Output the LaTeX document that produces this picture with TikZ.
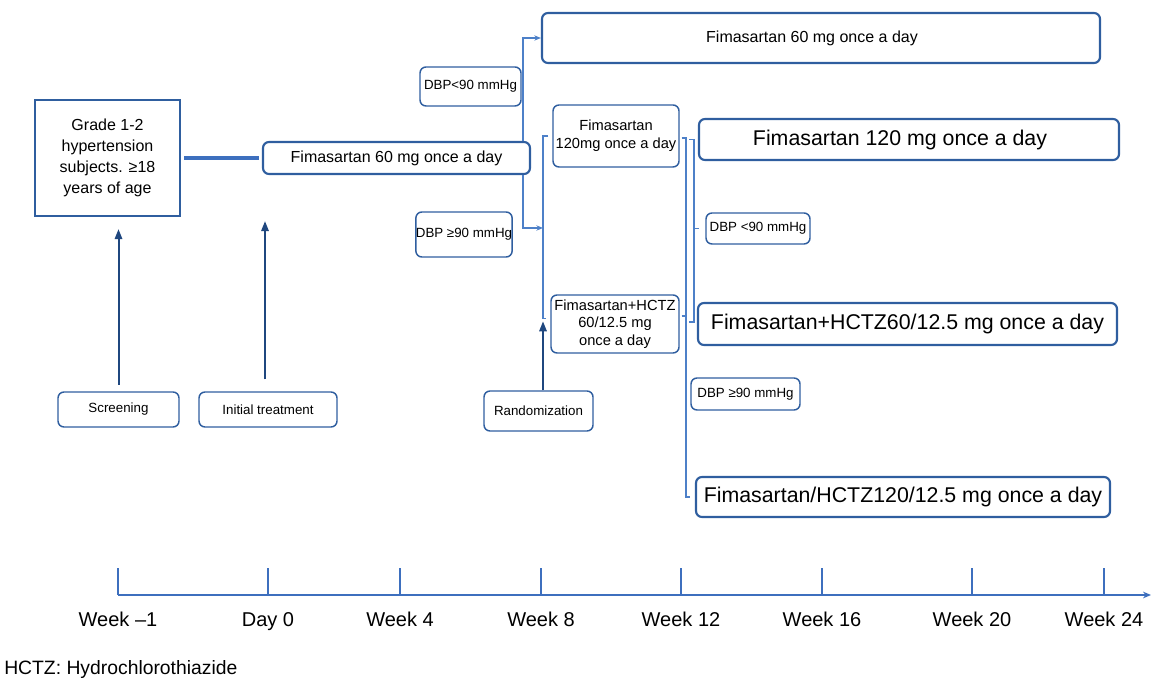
\documentclass[tikz,border=0pt]{standalone}
\usepackage{fontspec}
\setmainfont{Liberation Sans}
\usetikzlibrary{arrows.meta,calc}
\definecolor{bbox}{HTML}{2F5E9F}
\definecolor{lblue}{HTML}{4D80C8}
\definecolor{dblue}{HTML}{1F477F}
\definecolor{axc}{HTML}{3D6FBE}
\begin{document}
\begin{tikzpicture}[x=0.75pt,y=-0.75pt,
  base/.style={rounded corners=4.5pt, inner sep=0pt, align=center, text=black},
  big/.style={base, draw=bbox, line width=1.6pt},
  small/.style={base, draw=bbox, line width=1.1pt},
  sq/.style={draw=bbox, line width=1.6pt, inner sep=0pt, align=center},
  f10/.style={font=\fontsize{10}{12}\selectfont},
  f11/.style={font=\fontsize{11}{13.3}\selectfont},
  f12/.style={font=\fontsize{12}{15.75}\selectfont},
  f15/.style={font=\fontsize{15}{18}\selectfont},
  f16/.style={font=\fontsize{16}{19}\selectfont},
  fnote/.style={font=\fontsize{14.5}{17}\selectfont},
  conn/.style={draw=lblue, line width=1.1pt},
  carr/.style={conn, -{Stealth[length=5pt,width=4pt]}},
  darr/.style={draw=dblue, line width=1.5pt, -{Triangle[length=7.5pt,width=5.5pt]}},
  axisline/.style={draw=axc, line width=1.6pt}
]
\useasboundingbox (0,0) rectangle (1152,680);

% nodes
\node[sq, minimum width=108.75pt, minimum height=87pt, f12] (grade) at (107.5,158) {Grade 1-2\\hypertension\\subjects. ≥18\\years of age};
\node[big, minimum width=200.25pt, minimum height=24pt, f12] (fima60L) at (396.5,158) {Fimasartan 60 mg once a day};
\node[big, minimum width=418.5pt, minimum height=37.5pt, f12] (fima60T) at (821,38) {Fimasartan 60 mg once a day\hspace*{13.5pt}};
\node[small, minimum width=75.75pt, minimum height=29.25pt, f10] (dbpA) at (470.5,86.5) {DBP<90 mmHg};
\node[small, minimum width=72pt, minimum height=33.75pt, f10] (dbpB) at (464,234.5) {DBP ≥90 mmHg};
\node[small, minimum width=94.5pt, minimum height=46.5pt, f11] (f120s) at (616,136) {Fimasartan\\120mg once a day};
\node[small, minimum width=96pt, minimum height=43.5pt, f11] (fhs) at (615,324) {Fimasartan+HCTZ\\60/12.5 mg\\once a day};
\node[small, minimum width=90.75pt, minimum height=26.25pt, f10] (scr) at (118.5,409.5) {Screening};
\node[small, minimum width=103.5pt, minimum height=26.25pt, f10] (init) at (268,409.5) {Initial treatment};
\node[small, minimum width=81.75pt, minimum height=30pt, f10] (rand) at (538.5,411) {Randomization};
\node[big, minimum width=315pt, minimum height=30.75pt, f16] (f120b) at (909,139.5) {Fimasartan 120 mg once a day\hspace*{13.5pt}};
\node[small, minimum width=78pt, minimum height=23.25pt, f10] (dbpC) at (758,228.5) {DBP <90 mmHg};
\node[big, minimum width=314.25pt, minimum height=31.5pt, f16] (fh60b) at (907.5,324) {Fimasartan+HCTZ60/12.5 mg once a day};
\node[small, minimum width=81.75pt, minimum height=24pt, f10] (dbpD) at (745.5,394) {DBP ≥90 mmHg};
\node[big, minimum width=310.5pt, minimum height=30pt, f16] (fh120b) at (903,497) {Fimasartan/HCTZ120/12.5 mg once a day};

% helper coordinates
\coordinate (xj) at (523,0);
\coordinate (bL) at (543,228);
\coordinate (xi) at (265,0);
\coordinate (xo) at (686,0);
\coordinate (xq) at (689,0);
\coordinate (xin) at (694,0);

% thick link
\draw[draw=axc, line width=3pt] ([xshift=2.25pt]grade.east) -- ([xshift=-2.25pt]fima60L.west);

% branching connectors
\draw[carr] (fima60L.north -| xj) |- (fima60T.west);
\draw[carr] (fima60L.south -| xj) |- (bL);
\draw[conn] ([xshift=-3pt]f120s.west) -- (f120s.west -| bL) -- ([yshift=4pt]fhs.west -| bL) -- ([xshift=-3pt,yshift=4pt]fhs.west);

% right brackets
\draw[conn] ([xshift=1.5pt,yshift=-1.5pt]f120s.east) -- ([yshift=-1.5pt]f120s.east -| xo) -- (fh120b.west -| xo) -- ([xshift=-4pt]fh120b.west);
\draw[conn] ([xshift=1.5pt,yshift=6pt]fhs.east) -- ([yshift=6pt]fhs.east -| xo);
\draw[conn] (f120b.west -| xq) -- (f120b.west -| xin) -- ([yshift=1.5pt]fh60b.west -| xin) -- ([yshift=1.5pt]fh60b.west -| xq);
\draw[conn] (dbpC.west -| xin) -- ([xshift=-5pt]dbpC.west);

% dark arrows
\draw[darr, shorten <=5pt, shorten >=9pt] (scr.north) -- (scr.north |- grade.south);
\draw[darr, shorten <=9pt, shorten >=34.5pt] (init.north -| xi) -- (fima60L.south -| xi);
\draw[darr] (rand.north -| bL) -- ([yshift=2pt]fhs.west -| bL);

% time axis
\coordinate (ax0) at (118,595);
\coordinate (ax1) at (1151,595);
\draw[axisline, -{Stealth[length=6pt,width=5pt]}] (ax0) -- (ax1);
\foreach \x/\l [count=\i] in {118/Week –1, 268/Day 0, 400/Week 4, 541/Week 8, 681/Week 12, 822/Week 16, 972/Week 20, 1104/Week 24}{
  \draw[axisline] (\x,568) -- (\x,595);
  \node[f15, anchor=base, inner sep=0pt] (t\i) at (\x,626) {\l};
}

\node[fnote, anchor=base west, inner sep=0pt] (note) at (4,674) {HCTZ: Hydrochlorothiazide};
\end{tikzpicture}
\end{document}
